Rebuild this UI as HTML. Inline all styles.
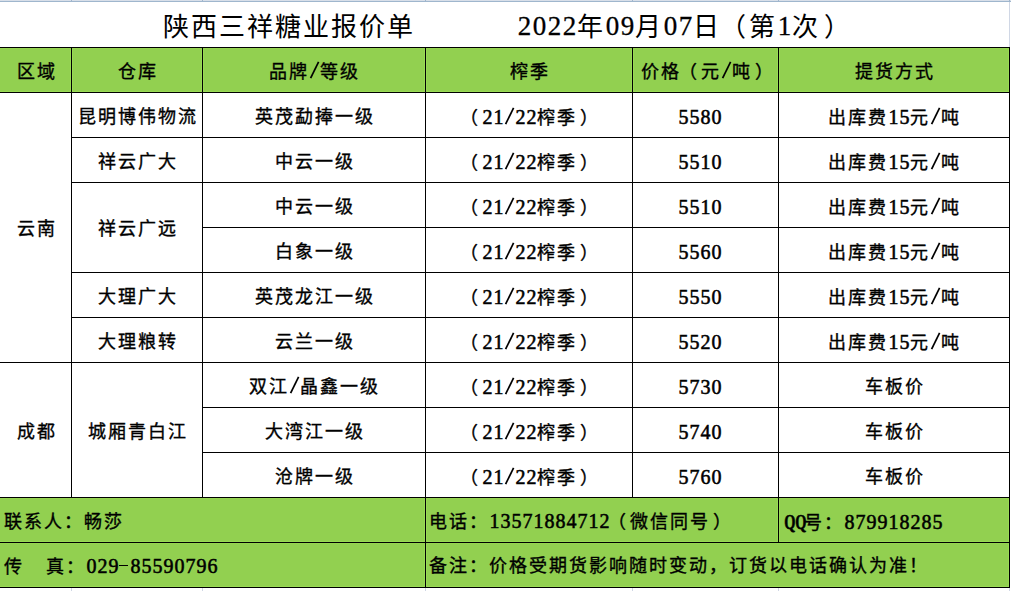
<!DOCTYPE html>
<html lang="zh-CN"><head><meta charset="utf-8"><title>陕西三祥糖业报价单</title><style>
html,body{margin:0;padding:0;}
body{width:1011px;height:591px;overflow:hidden;background:#fff;position:relative;}
.r{position:absolute;}
.t{position:absolute;text-align:center;white-space:nowrap;font-family:"Liberation Serif",serif;font-size:18px;letter-spacing:2px;font-weight:400;-webkit-text-stroke:0.35px #000;color:#000;}
.title{position:absolute;white-space:nowrap;font-family:"Liberation Serif",serif;font-size:26px;letter-spacing:2px;font-weight:400;color:#000;}
i{font-style:normal;display:inline-block;text-align:center;font-size:20px;letter-spacing:0;}
.t i{-webkit-text-stroke:0.55px #000;}
.title i{font-size:27px;font-weight:400;-webkit-text-stroke:0.3px #000;position:relative;top:-1px;}
.rp{position:relative;left:3px;}
i.h{width:11px;height:0;position:relative;}
i.h::after{content:"";position:absolute;left:0;width:9px;height:1px;bottom:7px;background:#000;}
.lp{position:relative;left:-2px;}
.title .rp{left:4px;}
.title .lp{left:-1px;}
b.q{display:inline-block;font-weight:700;transform:scaleX(.72);}
i.s{width:11px;position:relative;height:14px;}
i.s svg{position:absolute;left:0;top:-3px;}
</style></head>
<body>
<div class="r" style="left:0px;top:0px;width:1011px;height:1px;background:#d8dfe9"></div>
<div class="r" style="left:0px;top:1px;width:1011px;height:1px;background:#9fb6cd"></div>
<div class="r" style="left:71px;top:0px;width:1px;height:2px;background:#9fb6cd"></div>
<div class="r" style="left:202px;top:0px;width:1px;height:2px;background:#9fb6cd"></div>
<div class="r" style="left:425px;top:0px;width:1px;height:2px;background:#9fb6cd"></div>
<div class="r" style="left:632px;top:0px;width:1px;height:2px;background:#9fb6cd"></div>
<div class="r" style="left:778px;top:0px;width:1px;height:2px;background:#9fb6cd"></div>
<div class="r" style="left:1009px;top:0px;width:1px;height:2px;background:#9fb6cd"></div>
<div class="r" style="left:1009px;top:2px;width:1px;height:45px;background:#d0d7e5"></div>
<div class="r" style="left:71px;top:588px;width:1px;height:3px;background:#d0d7e5"></div>
<div class="r" style="left:202px;top:588px;width:1px;height:3px;background:#d0d7e5"></div>
<div class="r" style="left:425px;top:588px;width:1px;height:3px;background:#d0d7e5"></div>
<div class="r" style="left:632px;top:588px;width:1px;height:3px;background:#d0d7e5"></div>
<div class="r" style="left:778px;top:588px;width:1px;height:3px;background:#d0d7e5"></div>
<div class="r" style="left:1009px;top:588px;width:1px;height:3px;background:#d0d7e5"></div>
<div class="r" style="left:0px;top:48px;width:1009px;height:44px;background:#92d050"></div>
<div class="r" style="left:0px;top:498px;width:1009px;height:89px;background:#92d050"></div>
<div class="r" style="left:70px;top:48px;width:1px;height:44px;background:#99db55"></div>
<div class="r" style="left:72px;top:48px;width:1px;height:44px;background:#99db55"></div>
<div class="r" style="left:201px;top:48px;width:1px;height:44px;background:#99db55"></div>
<div class="r" style="left:203px;top:48px;width:1px;height:44px;background:#99db55"></div>
<div class="r" style="left:424px;top:48px;width:1px;height:44px;background:#99db55"></div>
<div class="r" style="left:426px;top:48px;width:1px;height:44px;background:#99db55"></div>
<div class="r" style="left:631px;top:48px;width:1px;height:44px;background:#99db55"></div>
<div class="r" style="left:633px;top:48px;width:1px;height:44px;background:#99db55"></div>
<div class="r" style="left:777px;top:48px;width:1px;height:44px;background:#99db55"></div>
<div class="r" style="left:779px;top:48px;width:1px;height:44px;background:#99db55"></div>
<div class="r" style="left:1008px;top:48px;width:1px;height:44px;background:#99db55"></div>
<div class="r" style="left:424px;top:498px;width:1px;height:44px;background:#99db55"></div>
<div class="r" style="left:426px;top:498px;width:1px;height:44px;background:#99db55"></div>
<div class="r" style="left:1008px;top:498px;width:1px;height:44px;background:#99db55"></div>
<div class="r" style="left:424px;top:543px;width:1px;height:44px;background:#99db55"></div>
<div class="r" style="left:426px;top:543px;width:1px;height:44px;background:#99db55"></div>
<div class="r" style="left:1008px;top:543px;width:1px;height:44px;background:#99db55"></div>
<div class="r" style="left:777px;top:498px;width:1px;height:44px;background:#99db55"></div>
<div class="r" style="left:779px;top:498px;width:1px;height:44px;background:#99db55"></div>
<div class="r" style="left:0px;top:91px;width:1009px;height:1px;background:#99db55"></div>
<div class="r" style="left:0px;top:48px;width:1009px;height:1px;background:#96d552"></div>
<div class="r" style="left:0px;top:498px;width:1009px;height:1px;background:#96d552"></div>
<div class="r" style="left:0px;top:541px;width:1009px;height:1px;background:#99db55"></div>
<div class="r" style="left:0px;top:543px;width:1009px;height:1px;background:#96d552"></div>
<div class="r" style="left:0px;top:586px;width:1009px;height:1px;background:#99db55"></div>
<div class="r" style="left:0px;top:47px;width:1010px;height:1px;background:#000"></div>
<div class="r" style="left:0px;top:92px;width:1010px;height:1px;background:#000"></div>
<div class="r" style="left:71px;top:137px;width:939px;height:1px;background:#000"></div>
<div class="r" style="left:71px;top:182px;width:939px;height:1px;background:#000"></div>
<div class="r" style="left:71px;top:272px;width:939px;height:1px;background:#000"></div>
<div class="r" style="left:71px;top:317px;width:939px;height:1px;background:#000"></div>
<div class="r" style="left:202px;top:227px;width:808px;height:1px;background:#000"></div>
<div class="r" style="left:0px;top:362px;width:1010px;height:1px;background:#000"></div>
<div class="r" style="left:202px;top:407px;width:808px;height:1px;background:#000"></div>
<div class="r" style="left:202px;top:452px;width:808px;height:1px;background:#000"></div>
<div class="r" style="left:0px;top:497px;width:1010px;height:1px;background:#000"></div>
<div class="r" style="left:0px;top:542px;width:1010px;height:1px;background:#000"></div>
<div class="r" style="left:0px;top:587px;width:1010px;height:1px;background:#000"></div>
<div class="r" style="left:71px;top:47px;width:1px;height:451px;background:#000"></div>
<div class="r" style="left:202px;top:47px;width:1px;height:451px;background:#000"></div>
<div class="r" style="left:425px;top:47px;width:1px;height:541px;background:#000"></div>
<div class="r" style="left:632px;top:47px;width:1px;height:451px;background:#000"></div>
<div class="r" style="left:778px;top:47px;width:1px;height:496px;background:#000"></div>
<div class="r" style="left:1009px;top:47px;width:1px;height:541px;background:#000"></div>
<div class="title" style="left:163px;top:5px;height:45px;line-height:45px;">陕西三祥糖业报价单</div>
<div class="title" style="left:517px;top:5px;height:45px;line-height:45px;"><i style="width:15px">2</i><i style="width:15px">0</i><i style="width:15px">2</i><i style="width:15px">2</i>年<i style="width:15px">0</i><i style="width:15px">9</i>月<i style="width:15px">0</i><i style="width:15px">7</i>日<span class="lp">（</span>第<i style="width:15px">1</i>次<span class="rp">）</span></div>
<div class="t" style="left:1px;top:50px;width:71px;height:45px;line-height:45px;">区域</div>
<div class="t" style="left:72px;top:50px;width:131px;height:45px;line-height:45px;">仓库</div>
<div class="t" style="left:203px;top:50px;width:223px;height:45px;line-height:45px;">品牌<i class="s"><svg width="11" height="18" viewBox="0 0 11 18"><line x1="1.6" y1="17.2" x2="9.6" y2="0.8" stroke="#000" stroke-width="1.7"/></svg></i>等级</div>
<div class="t" style="left:426px;top:50px;width:207px;height:45px;line-height:45px;">榨季</div>
<div class="t" style="left:633px;top:50px;width:146px;height:45px;line-height:45px;">价格<span class="lp">（</span>元<i class="s"><svg width="11" height="18" viewBox="0 0 11 18"><line x1="1.6" y1="17.2" x2="9.6" y2="0.8" stroke="#000" stroke-width="1.7"/></svg></i>吨<span class="rp">）</span></div>
<div class="t" style="left:779px;top:50px;width:231px;height:45px;line-height:45px;">提货方式</div>
<div class="t" style="left:72px;top:95px;width:131px;height:45px;line-height:45px;">昆明博伟物流</div>
<div class="t" style="left:203px;top:95px;width:223px;height:45px;line-height:45px;">英茂勐捧一级</div>
<div class="t" style="left:426px;top:95px;width:207px;height:45px;line-height:45px;"><span class="lp">（</span><i style="width:11px">2</i><i style="width:11px">1</i><i class="s"><svg width="11" height="18" viewBox="0 0 11 18"><line x1="1.6" y1="17.2" x2="9.6" y2="0.8" stroke="#000" stroke-width="1.7"/></svg></i><i style="width:11px">2</i><i style="width:11px">2</i>榨季<span class="rp">）</span></div>
<div class="t" style="left:627px;top:95px;width:146px;height:45px;line-height:45px;"><i style="width:11px">5</i><i style="width:11px">5</i><i style="width:11px">8</i><i style="width:11px">0</i></div>
<div class="t" style="left:779px;top:95px;width:231px;height:45px;line-height:45px;">出库费<i style="width:11px">1</i><i style="width:11px">5</i>元<i class="s"><svg width="11" height="18" viewBox="0 0 11 18"><line x1="1.6" y1="17.2" x2="9.6" y2="0.8" stroke="#000" stroke-width="1.7"/></svg></i>吨</div>
<div class="t" style="left:72px;top:140px;width:131px;height:45px;line-height:45px;">祥云广大</div>
<div class="t" style="left:203px;top:140px;width:223px;height:45px;line-height:45px;">中云一级</div>
<div class="t" style="left:426px;top:140px;width:207px;height:45px;line-height:45px;"><span class="lp">（</span><i style="width:11px">2</i><i style="width:11px">1</i><i class="s"><svg width="11" height="18" viewBox="0 0 11 18"><line x1="1.6" y1="17.2" x2="9.6" y2="0.8" stroke="#000" stroke-width="1.7"/></svg></i><i style="width:11px">2</i><i style="width:11px">2</i>榨季<span class="rp">）</span></div>
<div class="t" style="left:627px;top:140px;width:146px;height:45px;line-height:45px;"><i style="width:11px">5</i><i style="width:11px">5</i><i style="width:11px">1</i><i style="width:11px">0</i></div>
<div class="t" style="left:779px;top:140px;width:231px;height:45px;line-height:45px;">出库费<i style="width:11px">1</i><i style="width:11px">5</i>元<i class="s"><svg width="11" height="18" viewBox="0 0 11 18"><line x1="1.6" y1="17.2" x2="9.6" y2="0.8" stroke="#000" stroke-width="1.7"/></svg></i>吨</div>
<div class="t" style="left:203px;top:185px;width:223px;height:45px;line-height:45px;">中云一级</div>
<div class="t" style="left:426px;top:185px;width:207px;height:45px;line-height:45px;"><span class="lp">（</span><i style="width:11px">2</i><i style="width:11px">1</i><i class="s"><svg width="11" height="18" viewBox="0 0 11 18"><line x1="1.6" y1="17.2" x2="9.6" y2="0.8" stroke="#000" stroke-width="1.7"/></svg></i><i style="width:11px">2</i><i style="width:11px">2</i>榨季<span class="rp">）</span></div>
<div class="t" style="left:627px;top:185px;width:146px;height:45px;line-height:45px;"><i style="width:11px">5</i><i style="width:11px">5</i><i style="width:11px">1</i><i style="width:11px">0</i></div>
<div class="t" style="left:779px;top:185px;width:231px;height:45px;line-height:45px;">出库费<i style="width:11px">1</i><i style="width:11px">5</i>元<i class="s"><svg width="11" height="18" viewBox="0 0 11 18"><line x1="1.6" y1="17.2" x2="9.6" y2="0.8" stroke="#000" stroke-width="1.7"/></svg></i>吨</div>
<div class="t" style="left:203px;top:230px;width:223px;height:45px;line-height:45px;">白象一级</div>
<div class="t" style="left:426px;top:230px;width:207px;height:45px;line-height:45px;"><span class="lp">（</span><i style="width:11px">2</i><i style="width:11px">1</i><i class="s"><svg width="11" height="18" viewBox="0 0 11 18"><line x1="1.6" y1="17.2" x2="9.6" y2="0.8" stroke="#000" stroke-width="1.7"/></svg></i><i style="width:11px">2</i><i style="width:11px">2</i>榨季<span class="rp">）</span></div>
<div class="t" style="left:627px;top:230px;width:146px;height:45px;line-height:45px;"><i style="width:11px">5</i><i style="width:11px">5</i><i style="width:11px">6</i><i style="width:11px">0</i></div>
<div class="t" style="left:779px;top:230px;width:231px;height:45px;line-height:45px;">出库费<i style="width:11px">1</i><i style="width:11px">5</i>元<i class="s"><svg width="11" height="18" viewBox="0 0 11 18"><line x1="1.6" y1="17.2" x2="9.6" y2="0.8" stroke="#000" stroke-width="1.7"/></svg></i>吨</div>
<div class="t" style="left:72px;top:275px;width:131px;height:45px;line-height:45px;">大理广大</div>
<div class="t" style="left:203px;top:275px;width:223px;height:45px;line-height:45px;">英茂龙江一级</div>
<div class="t" style="left:426px;top:275px;width:207px;height:45px;line-height:45px;"><span class="lp">（</span><i style="width:11px">2</i><i style="width:11px">1</i><i class="s"><svg width="11" height="18" viewBox="0 0 11 18"><line x1="1.6" y1="17.2" x2="9.6" y2="0.8" stroke="#000" stroke-width="1.7"/></svg></i><i style="width:11px">2</i><i style="width:11px">2</i>榨季<span class="rp">）</span></div>
<div class="t" style="left:627px;top:275px;width:146px;height:45px;line-height:45px;"><i style="width:11px">5</i><i style="width:11px">5</i><i style="width:11px">5</i><i style="width:11px">0</i></div>
<div class="t" style="left:779px;top:275px;width:231px;height:45px;line-height:45px;">出库费<i style="width:11px">1</i><i style="width:11px">5</i>元<i class="s"><svg width="11" height="18" viewBox="0 0 11 18"><line x1="1.6" y1="17.2" x2="9.6" y2="0.8" stroke="#000" stroke-width="1.7"/></svg></i>吨</div>
<div class="t" style="left:72px;top:320px;width:131px;height:45px;line-height:45px;">大理粮转</div>
<div class="t" style="left:203px;top:320px;width:223px;height:45px;line-height:45px;">云兰一级</div>
<div class="t" style="left:426px;top:320px;width:207px;height:45px;line-height:45px;"><span class="lp">（</span><i style="width:11px">2</i><i style="width:11px">1</i><i class="s"><svg width="11" height="18" viewBox="0 0 11 18"><line x1="1.6" y1="17.2" x2="9.6" y2="0.8" stroke="#000" stroke-width="1.7"/></svg></i><i style="width:11px">2</i><i style="width:11px">2</i>榨季<span class="rp">）</span></div>
<div class="t" style="left:627px;top:320px;width:146px;height:45px;line-height:45px;"><i style="width:11px">5</i><i style="width:11px">5</i><i style="width:11px">2</i><i style="width:11px">0</i></div>
<div class="t" style="left:779px;top:320px;width:231px;height:45px;line-height:45px;">出库费<i style="width:11px">1</i><i style="width:11px">5</i>元<i class="s"><svg width="11" height="18" viewBox="0 0 11 18"><line x1="1.6" y1="17.2" x2="9.6" y2="0.8" stroke="#000" stroke-width="1.7"/></svg></i>吨</div>
<div class="t" style="left:203px;top:365px;width:223px;height:45px;line-height:45px;">双江<i class="s"><svg width="11" height="18" viewBox="0 0 11 18"><line x1="1.6" y1="17.2" x2="9.6" y2="0.8" stroke="#000" stroke-width="1.7"/></svg></i>晶鑫一级</div>
<div class="t" style="left:426px;top:365px;width:207px;height:45px;line-height:45px;"><span class="lp">（</span><i style="width:11px">2</i><i style="width:11px">1</i><i class="s"><svg width="11" height="18" viewBox="0 0 11 18"><line x1="1.6" y1="17.2" x2="9.6" y2="0.8" stroke="#000" stroke-width="1.7"/></svg></i><i style="width:11px">2</i><i style="width:11px">2</i>榨季<span class="rp">）</span></div>
<div class="t" style="left:627px;top:365px;width:146px;height:45px;line-height:45px;"><i style="width:11px">5</i><i style="width:11px">7</i><i style="width:11px">3</i><i style="width:11px">0</i></div>
<div class="t" style="left:779px;top:365px;width:231px;height:45px;line-height:45px;">车板价</div>
<div class="t" style="left:203px;top:410px;width:223px;height:45px;line-height:45px;">大湾江一级</div>
<div class="t" style="left:426px;top:410px;width:207px;height:45px;line-height:45px;"><span class="lp">（</span><i style="width:11px">2</i><i style="width:11px">1</i><i class="s"><svg width="11" height="18" viewBox="0 0 11 18"><line x1="1.6" y1="17.2" x2="9.6" y2="0.8" stroke="#000" stroke-width="1.7"/></svg></i><i style="width:11px">2</i><i style="width:11px">2</i>榨季<span class="rp">）</span></div>
<div class="t" style="left:627px;top:410px;width:146px;height:45px;line-height:45px;"><i style="width:11px">5</i><i style="width:11px">7</i><i style="width:11px">4</i><i style="width:11px">0</i></div>
<div class="t" style="left:779px;top:410px;width:231px;height:45px;line-height:45px;">车板价</div>
<div class="t" style="left:203px;top:455px;width:223px;height:45px;line-height:45px;">沧牌一级</div>
<div class="t" style="left:426px;top:455px;width:207px;height:45px;line-height:45px;"><span class="lp">（</span><i style="width:11px">2</i><i style="width:11px">1</i><i class="s"><svg width="11" height="18" viewBox="0 0 11 18"><line x1="1.6" y1="17.2" x2="9.6" y2="0.8" stroke="#000" stroke-width="1.7"/></svg></i><i style="width:11px">2</i><i style="width:11px">2</i>榨季<span class="rp">）</span></div>
<div class="t" style="left:627px;top:455px;width:146px;height:45px;line-height:45px;"><i style="width:11px">5</i><i style="width:11px">7</i><i style="width:11px">6</i><i style="width:11px">0</i></div>
<div class="t" style="left:779px;top:455px;width:231px;height:45px;line-height:45px;">车板价</div>
<div class="t" style="left:72px;top:184px;width:131px;height:90px;line-height:90px;">祥云广远</div>
<div class="t" style="left:72px;top:365px;width:131px;height:135px;line-height:135px;">城厢青白江</div>
<div class="t" style="left:1px;top:94px;width:71px;height:270px;line-height:270px;">云南</div>
<div class="t" style="left:1px;top:365px;width:71px;height:135px;line-height:135px;">成都</div>
<div class="t" style="left:1px;top:500px;width:425px;height:45px;line-height:45px;text-align:left;padding-left:3px;box-sizing:border-box;">联系人：畅莎</div>
<div class="t" style="left:426px;top:499px;width:353px;height:45px;line-height:45px;text-align:left;padding-left:3px;box-sizing:border-box;">电话：<i style="width:11px">1</i><i style="width:11px">3</i><i style="width:11px">5</i><i style="width:11px">7</i><i style="width:11px">1</i><i style="width:11px">8</i><i style="width:11px">8</i><i style="width:11px">4</i><i style="width:11px">7</i><i style="width:11px">1</i><i style="width:11px">2</i><span class="lp">（</span>微信同号<span class="rp">）</span></div>
<div class="t" style="left:779px;top:500px;width:231px;height:45px;line-height:45px;text-align:left;padding-left:3px;box-sizing:border-box;"><i style="width:11px"><b class="q">Q</b></i><i style="width:11px"><b class="q">Q</b></i>号：<i style="width:11px">8</i><i style="width:11px">7</i><i style="width:11px">9</i><i style="width:11px">9</i><i style="width:11px">1</i><i style="width:11px">8</i><i style="width:11px">2</i><i style="width:11px">8</i><i style="width:11px">5</i></div>
<div class="t" style="left:1px;top:544px;width:425px;height:45px;line-height:45px;text-align:left;padding-left:3px;box-sizing:border-box;">传<i style="width:11px">&nbsp;</i><i style="width:11px">&nbsp;</i>真：<i style="width:11px">0</i><i style="width:11px">2</i><i style="width:11px">9</i><i class="h"></i><i style="width:11px">8</i><i style="width:11px">5</i><i style="width:11px">5</i><i style="width:11px">9</i><i style="width:11px">0</i><i style="width:11px">7</i><i style="width:11px">9</i><i style="width:11px">6</i></div>
<div class="t" style="left:426px;top:544px;width:584px;height:45px;line-height:45px;text-align:left;padding-left:3px;box-sizing:border-box;">备注：价格受期货影响随时变动，订货以电话确认为准！</div>
</body></html>
